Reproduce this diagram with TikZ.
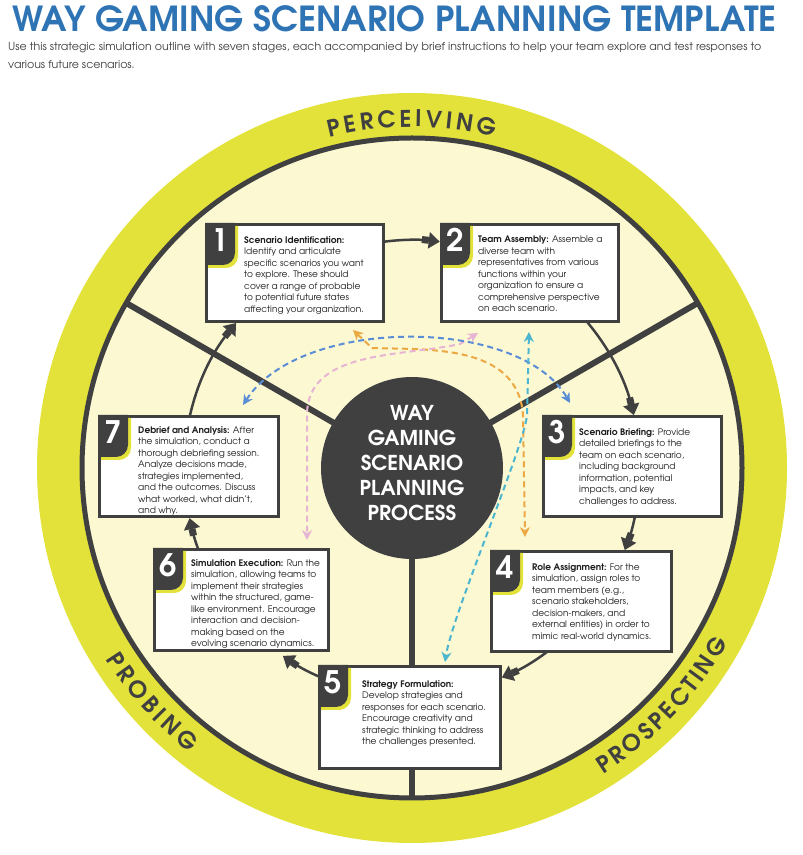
\documentclass[tikz,border=0pt]{standalone}
\usepackage{fontspec}
\setmainfont{texgyreadventor}[Extension=.otf, UprightFont=*-regular, BoldFont=*-bold, ItalicFont=*-italic, BoldItalicFont=*-bolditalic]
\usetikzlibrary{calc, arrows.meta, decorations.text}

\definecolor{my-dark}{HTML}{404041}
\definecolor{my-ink}{HTML}{1E1E1E}
\definecolor{my-blue}{HTML}{2E74B5}
\definecolor{my-gray}{HTML}{404040}
\definecolor{my-yellow}{HTML}{E3E23A}
\definecolor{my-cream}{HTML}{FBF8D2}
\definecolor{my-orange}{HTML}{EBA843}
\definecolor{my-pink}{HTML}{E8B4D4}
\definecolor{my-sky}{HTML}{5A8DD6}
\definecolor{my-cyan}{HTML}{4CB5CF}

\newcommand{\ringfont}{\fontsize{23}{23}\selectfont\bfseries\color{my-dark}}

\tikzset{
    my-box/.style={
        draw=my-dark, line width=3pt, fill=white, inner sep=0pt
    },
    my-desc/.style={
        anchor=north west, inner sep=0pt, align=left, text=my-ink,
        font=\fontsize{9}{11.5}\selectfont
    },
    my-num/.style={
        text=white, inner sep=0pt, font=\fontsize{31}{31}\selectfont\bfseries
    },
    my-tab/.style={
        fill=my-dark
    },
    my-tabedge/.style={
        fill=my-yellow
    },
    my-flow/.style={
        draw=my-dark, line width=2.5pt,
        -{Rectangle[length=7pt, width=7pt, sep=0pt] Triangle[length=11pt, width=16pt]}
    },
    my-spoke/.style={
        draw=my-dark, line width=6pt
    },
    my-dash/.style={
        line width=2pt, dash pattern=on 6pt off 4pt,
        {Stealth[length=10pt, width=10pt]}-{Stealth[length=10pt, width=10pt]}
    },
}

\begin{document}
\begin{tikzpicture}[x=1pt, y=1pt]

        \useasboundingbox (0, 0) rectangle (803, 855);

        % HEADER ----------------------------------------------------------------------------------

        \node[anchor=base west, inner sep=0pt, text=my-blue, font=\fontsize{34.5}{34.5}\selectfont\bfseries]
            (TITLE) at (12, 823) {WAY GAMING SCENARIO PLANNING TEMPLATE};
        \node[anchor=north west, inner sep=0pt, align=left, text=my-gray, font=\fontsize{11}{18}\selectfont]
            (SUBTITLE) at (8, 813) {Use this strategic simulation outline with seven stages, each accompanied by brief instructions to help your team explore and test responses to\\various future scenarios.};

        % RING ------------------------------------------------------------------------------------

        \coordinate (C) at (412, 387);
        \fill[my-yellow] (C) circle[radius=375pt];
        \filldraw[fill=my-cream, draw=my-dark, line width=5pt] (C) circle[radius=330pt];

        % RING LABELS
        \path[decorate, decoration={text along path, text align=fit to path, text={|\ringfont|PERCEIVING}}]
            ($(C) + (104:341pt)$) arc[start angle=104, end angle=76, radius=341pt];
        \path[decorate, decoration={text along path, text align=fit to path, text={|\ringfont|PROBING}}]
            ($(C) + (212:361pt)$) arc[start angle=212, end angle=232, radius=361pt];
        \path[decorate, decoration={text along path, text align=fit to path, text={|\ringfont|PROSPECTING}}]
            ($(C) + (302:361pt)$) arc[start angle=302, end angle=331, radius=361pt];

        % SPOKES
        \coordinate (SPOKE1) at ($(C) + (150:330pt)$);
        \coordinate (SPOKE2) at ($(C) + (30:330pt)$);
        \coordinate (SPOKE3) at ($(C) + (270:330pt)$);
        \draw[my-spoke] (C) -- (SPOKE1);
        \draw[my-spoke] (C) -- (SPOKE2);
        \draw[my-spoke] (C) -- (SPOKE3);

        % FLOW AROUND THE STAGES
        \coordinate (F12) at ($(C) + (100:228pt)$);
        \coordinate (F23) at ($(C) + (45:228pt)$);
        \coordinate (F34) at ($(C) + (-5:228pt)$);
        \coordinate (F45) at ($(C) + (-45:228pt)$);
        \coordinate (F56) at ($(C) + (-100:228pt)$);
        \coordinate (F67) at ($(C) + (-135:228pt)$);
        \coordinate (F71) at ($(C) + (180:228pt)$);
        \draw[my-flow] (F12) arc[start angle=100,  end angle=83,     radius=228pt];
        \draw[my-flow] (F23) arc[start angle=45,   end angle=13.4,   radius=228pt];
        \draw[my-flow] (F34) arc[start angle=-5,   end angle=-21.1,  radius=228pt];
        \draw[my-flow] (F45) arc[start angle=-45,  end angle=-66.8,  radius=228pt];
        \draw[my-flow] (F56) arc[start angle=-100, end angle=-124.5, radius=228pt];
        \draw[my-flow] (F67) arc[start angle=-135, end angle=-167.3, radius=228pt];
        \draw[my-flow] (F71) arc[start angle=180,  end angle=140.5,  radius=228pt];

        % HUB -------------------------------------------------------------------------------------

        \node[circle, fill=my-dark, minimum size=182pt, inner sep=0pt] (HUB) at (C) {};
        \node[align=center, text=white, inner sep=0pt, font=\fontsize{20.5}{25}\selectfont\bfseries]
            (HUBTEXT) at ($(HUB) + (0, 5)$) {WAY\\GAMING\\SCENARIO\\PLANNING\\PROCESS};

        % STAGE 1 ---------------------------------------------------------------------------------
        \node[my-box, minimum width=177pt, minimum height=97pt] (B1) at ($(C) + (-117, 195)$) {};
        \fill[my-tabedge] ($(B1.north west) + (3, -3)$) -- ++(30, 0) -- ++(0, -30) arc[start angle=0, end angle=-90, radius=12pt] -- ++(-18, 0) -- cycle;
        \fill[my-tab] (B1.north west) -- ++(30, 0) -- ++(0, -30) arc[start angle=0, end angle=-90, radius=12pt] -- ++(-18, 0) -- cycle;
        \node[my-num]  (N1) at ($(B1.north west) + (15, -17)$) {1};
        \node[my-desc] (T1) at ($(B1.north west) + (39, -13)$) {\textbf{Scenario Identification:}\\Identify and articulate\\specific scenarios you want\\to explore. These should\\cover a range of probable\\to potential future states\\affecting your organization.};

        % STAGE 2 ---------------------------------------------------------------------------------
        \node[my-box, minimum width=177pt, minimum height=97pt] (B2) at ($(C) + (118, 195)$) {};
        \fill[my-tabedge] ($(B2.north west) + (3, -3)$) -- ++(30, 0) -- ++(0, -30) arc[start angle=0, end angle=-90, radius=12pt] -- ++(-18, 0) -- cycle;
        \fill[my-tab] (B2.north west) -- ++(30, 0) -- ++(0, -30) arc[start angle=0, end angle=-90, radius=12pt] -- ++(-18, 0) -- cycle;
        \node[my-num]  (N2) at ($(B2.north west) + (15, -17)$) {2};
        \node[my-desc] (T2) at ($(B2.north west) + (38, -13)$) {\textbf{Team Assembly:} Assemble a\\diverse team with\\representatives from various\\functions within your\\organization to ensure a\\comprehensive perspective\\on each scenario.};

        % STAGE 3 ---------------------------------------------------------------------------------
        \node[my-box, minimum width=178pt, minimum height=100pt] (B3) at ($(C) + (220.5, 1.5)$) {};
        \fill[my-tabedge] ($(B3.north west) + (3, -3)$) -- ++(30, 0) -- ++(0, -30) arc[start angle=0, end angle=-90, radius=12pt] -- ++(-18, 0) -- cycle;
        \fill[my-tab] (B3.north west) -- ++(30, 0) -- ++(0, -30) arc[start angle=0, end angle=-90, radius=12pt] -- ++(-18, 0) -- cycle;
        \node[my-num]  (N3) at ($(B3.north west) + (15, -17)$) {3};
        \node[my-desc] (T3) at ($(B3.north west) + (37, -13)$) {\textbf{Scenario Briefing:} Provide\\detailed briefings to the\\team on each scenario,\\including background\\information, potential\\impacts, and key\\challenges to address.};

        % STAGE 4 ---------------------------------------------------------------------------------
        \node[my-box, minimum width=180pt, minimum height=100pt] (B4) at ($(C) + (169.5, -133.5)$) {};
        \fill[my-tabedge] ($(B4.north west) + (3, -3)$) -- ++(30, 0) -- ++(0, -30) arc[start angle=0, end angle=-90, radius=12pt] -- ++(-18, 0) -- cycle;
        \fill[my-tab] (B4.north west) -- ++(30, 0) -- ++(0, -30) arc[start angle=0, end angle=-90, radius=12pt] -- ++(-18, 0) -- cycle;
        \node[my-num]  (N4) at ($(B4.north west) + (15, -17)$) {4};
        \node[my-desc] (T4) at ($(B4.north west) + (42, -13)$) {\textbf{Role Assignment:} For the\\simulation, assign roles to\\team members (e.g.,\\scenario stakeholders,\\decision-makers, and\\external entities) in order to\\mimic real-world dynamics.};

        % STAGE 5 ---------------------------------------------------------------------------------
        \node[my-box, minimum width=181pt, minimum height=102pt] (B5) at ($(C) + (-2, -249.5)$) {};
        \fill[my-tabedge] ($(B5.north west) + (3, -3)$) -- ++(30, 0) -- ++(0, -30) arc[start angle=0, end angle=-90, radius=12pt] -- ++(-18, 0) -- cycle;
        \fill[my-tab] (B5.north west) -- ++(30, 0) -- ++(0, -30) arc[start angle=0, end angle=-90, radius=12pt] -- ++(-18, 0) -- cycle;
        \node[my-num]  (N5) at ($(B5.north west) + (15, -17)$) {5};
        \node[my-desc] (T5) at ($(B5.north west) + (44, -15)$) {\textbf{Strategy Formulation:}\\Develop strategies and\\responses for each scenario.\\Encourage creativity and\\strategic thinking to address\\the challenges presented.};

        % STAGE 6 ---------------------------------------------------------------------------------
        \node[my-box, minimum width=174pt, minimum height=101pt] (B6) at ($(C) + (-170.5, -132)$) {};
        \fill[my-tabedge] ($(B6.north west) + (3, -3)$) -- ++(30, 0) -- ++(0, -30) arc[start angle=0, end angle=-90, radius=12pt] -- ++(-18, 0) -- cycle;
        \fill[my-tab] (B6.north west) -- ++(30, 0) -- ++(0, -30) arc[start angle=0, end angle=-90, radius=12pt] -- ++(-18, 0) -- cycle;
        \node[my-num]  (N6) at ($(B6.north west) + (15, -17)$) {6};
        \node[my-desc] (T6) at ($(B6.north west) + (38, -11)$) {\textbf{Simulation Execution:} Run the\\simulation, allowing teams to\\implement their strategies\\within the structured, game-\\like environment. Encourage\\interaction and decision-\\making based on the\\evolving scenario dynamics.};

        % STAGE 7 ---------------------------------------------------------------------------------
        \node[my-box, minimum width=179pt, minimum height=100pt] (B7) at ($(C) + (-223, 1.5)$) {};
        \fill[my-tabedge] ($(B7.north west) + (3, -3)$) -- ++(30, 0) -- ++(0, -30) arc[start angle=0, end angle=-90, radius=12pt] -- ++(-18, 0) -- cycle;
        \fill[my-tab] (B7.north west) -- ++(30, 0) -- ++(0, -30) arc[start angle=0, end angle=-90, radius=12pt] -- ++(-18, 0) -- cycle;
        \node[my-num]  (N7) at ($(B7.north west) + (15, -17)$) {7};
        \node[my-desc] (T7) at ($(B7.north west) + (40, -11)$) {\textbf{Debrief and Analysis:} After\\the simulation, conduct a\\thorough debriefing session.\\Analyze decisions made,\\strategies implemented,\\and the outcomes. Discuss\\what worked, what didn’t,\\and why.};

        % FEEDBACK LOOPS (DASHED) -----------------------------------------------------------------

        % ORANGE
        \coordinate (OA) at ($(C) + (-59, 138)$);
        \coordinate (OB) at ($(C) + (113, -69)$);
        \draw[my-dash, draw=my-orange] (OA) -- ($(C) + (-40, 120)$) .. controls ($(C) + (13, 118)$) and ($(C) + (106, 125)$) .. ($(C) + (111, 53)$) -- (OB);

        % PINK
        \coordinate (PA) at ($(C) + (66, 135)$);
        \coordinate (PB) at ($(C) + (-105, -72)$);
        \draw[my-dash, draw=my-pink] (PA) -- ($(C) + (48, 124)$) .. controls ($(C) + (-12, 111)$) and ($(C) + (-105, 118)$) .. ($(C) + (-105, 53)$) -- (PB);

        % BLUE
        \coordinate (SA) at ($(C) + (-169, 63)$);
        \coordinate (SB) at ($(C) + (158, 65)$);
        \draw[my-dash, draw=my-sky] (SA) .. controls ($(C) + (-112, 152)$) and ($(C) + (108, 152)$) .. (SB);

        % CYAN
        \coordinate (CA) at ($(C) + (117, 136)$);
        \coordinate (CB) at ($(C) + (33, -194)$);
        \draw[my-dash, draw=my-cyan] (CA) -- ($(C) + (115, 53)$) .. controls ($(C) + (113, 23)$) and ($(C) + (40, -147)$) .. (CB);

\end{tikzpicture}
\end{document}
